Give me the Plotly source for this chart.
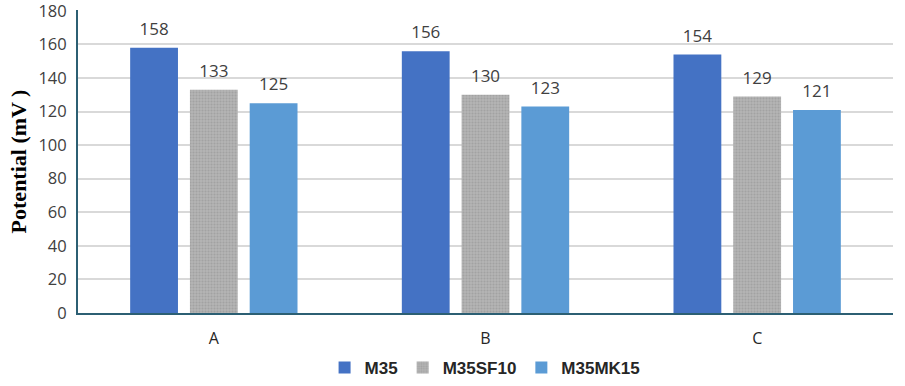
import plotly.graph_objects as go

categories = ["A", "B", "C"]
m35 = [158, 156, 154]
m35sf10 = [133, 130, 129]
m35mk15 = [125, 123, 121]
y_ticks = [0, 20, 40, 60, 80, 100, 120, 140, 160, 180]

fig = go.Figure()
lab_font = dict(family="Open Sans, Liberation Sans, sans-serif", size=6, color="#404040")
tmpl = "<span style='font-size:17px'>%{y}</span><br> "

fig.add_trace(go.Bar(name="M35", x=categories, y=m35, marker=dict(color="#4472C4", line=dict(width=0)),
                     texttemplate=tmpl, textposition="outside", textfont=lab_font, cliponaxis=False))
fig.add_trace(go.Bar(name="M35SF10", x=categories, y=m35sf10,
                     marker=dict(color="#A5A5A5", line=dict(width=0),
                                 pattern=dict(shape=".", fgcolor="#8f8f8f", bgcolor="#b4b4b4", size=3, solidity=0.4)),
                     texttemplate=tmpl, textposition="outside", textfont=lab_font, cliponaxis=False))
fig.add_trace(go.Bar(name="M35MK15", x=categories, y=m35mk15, marker=dict(color="#5B9BD5", line=dict(width=0)),
                     texttemplate=tmpl, textposition="outside", textfont=lab_font, cliponaxis=False))

fig.update_layout(
    width=905, height=386,
    margin=dict(l=78, r=12, t=10, b=73, autoexpand=False),
    paper_bgcolor="white", plot_bgcolor="white",
    barmode="group", bargap=0.34, bargroupgap=0.2,
    font=dict(family="Open Sans, Liberation Sans, sans-serif", size=17, color="#404040"),
    showlegend=True,
    legend=dict(orientation="h", x=0.536, xanchor="center", xref="container",
                y=11, yanchor="middle", yref="container",
                font=dict(family="Liberation Sans, Arial, sans-serif", size=17, color="#262626", weight="bold"),
                itemwidth=30, traceorder="normal", tracegroupgap=0),
    xaxis=dict(showline=True, linecolor="#2C5F73", linewidth=2, ticks="", showgrid=False, automargin=False,
               tickfont=dict(family="Open Sans, Liberation Sans, sans-serif", size=16, color="#262626"),
               ticklabelstandoff=10),
    yaxis=dict(range=[0, 180.5], tickvals=y_ticks, showgrid=True, gridcolor="#d9d9d9", gridwidth=1.5,
               showline=True, linecolor="#2C5F73", linewidth=2, ticks="", zeroline=False, automargin=False,
               ticklabeloverflow="allow",
               tickfont=dict(family="Open Sans, Liberation Sans, sans-serif", size=16.5, color="#404040"),
               ticklabelstandoff=6,
               title=dict(text="Potential (mV )", standoff=6,
                          font=dict(family="Liberation Serif, Times New Roman, serif", size=22,
                                    color="#000000", weight="bold"))),
)

fig.write_html("out.html")
